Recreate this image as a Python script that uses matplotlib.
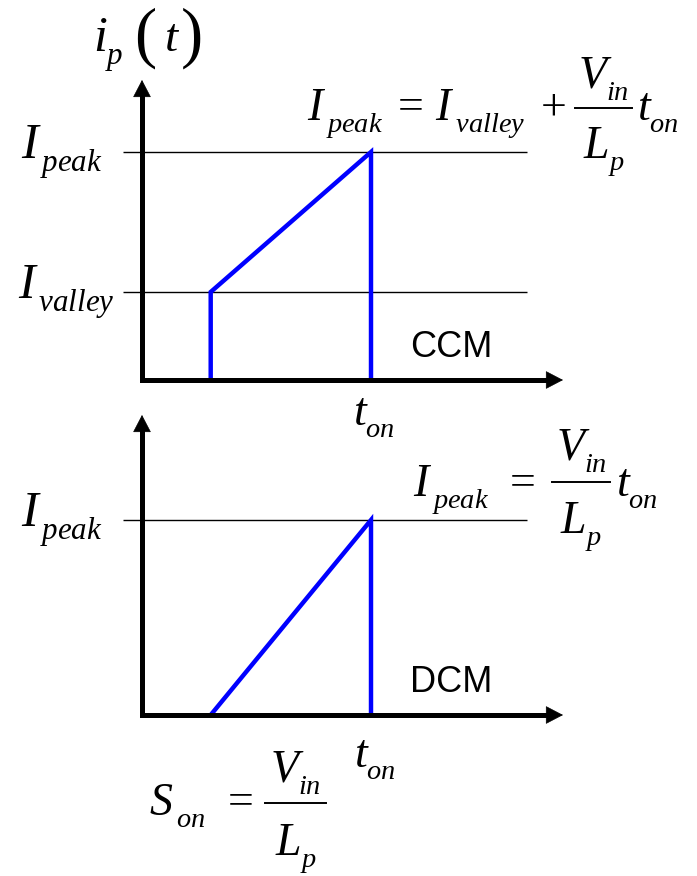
import matplotlib
matplotlib.use("Agg")
import matplotlib.pyplot as plt
from matplotlib.lines import Line2D
from matplotlib import _mathtext

plt.rcParams['mathtext.fontset'] = 'custom'
plt.rcParams['mathtext.rm'] = 'Liberation Serif'
plt.rcParams['mathtext.it'] = 'Liberation Serif:italic'
plt.rcParams['mathtext.bf'] = 'Liberation Serif:bold'
# equation-editor look: smaller, lower subscripts
_mathtext.SHRINK_FACTOR = 0.62
_mathtext.FontConstantsBase.sub1 = 0.6

# switch current waveforms (normalised: t_on = 1, I_peak = 1)
t_ccm = [0.30, 0.30, 1.0, 1.0]
i_ccm = [0.0, 0.386, 1.0, 0.0]
t_dcm = [0.30, 1.0, 1.0]
i_dcm = [0.0, 1.0, 0.0]
I_peak = 1.0
I_valley = 0.386

W, H = 697, 876
fig = plt.figure(figsize=(W / 100, H / 100), dpi=100)

def px_axes(left, top, right, bottom):
    return fig.add_axes([left / W, 1 - bottom / H, (right - left) / W, (bottom - top) / H])

def fig_text(x, y, s, **kw):
    kw.setdefault('va', 'baseline')
    fig.text(x / W, 1 - y / H, s, **kw)

def fraction(x0, x1, y, num, den, num_y, den_y, size):
    # numerator / rule / denominator stacked by hand (taller than \dfrac)
    xc = (x0 + x1) / 2
    fig_text(xc, num_y, num, fontsize=size, ha='center')
    fig_text(xc, den_y, den, fontsize=size, ha='center')
    fig.add_artist(Line2D([x0 / W, x1 / W], [1 - y / H] * 2, color='black', lw=1.4,
                          transform=fig.transFigure))

def draw_frame(ax, xmax, ymax):
    ax.set_xlim(0, xmax)
    ax.set_ylim(0, ymax)
    ax.axis('off')
    ax.plot([0, 0, xmax * 0.97], [ymax * 0.96, 0, 0], color='black', lw=3.6,
            solid_joinstyle='miter', solid_capstyle='projecting', clip_on=False, zorder=3)
    arrow = dict(arrowstyle='-|>,head_length=11.5,head_width=6', mutation_scale=1,
                 color='black', lw=0.5, shrinkA=0, shrinkB=0)
    ax.annotate('', xy=(xmax, 0), xytext=(xmax * 0.9, 0), arrowprops=arrow, zorder=4)
    ax.annotate('', xy=(0, ymax), xytext=(0, ymax * 0.9), arrowprops=arrow, zorder=4)

xmax = (563 - 142) / 229
g0, g1 = -19 / 229, 385 / 229

# CCM panel
ax1 = px_axes(142, 80, 563, 380)
draw_frame(ax1, xmax, 300 / 228)
ax1.hlines([I_peak, I_valley], g0, g1, color='black', lw=1.0, clip_on=False, zorder=1)
ax1.plot(t_ccm, i_ccm, color='#0000ff', lw=3.2, solid_joinstyle='miter', clip_on=False, zorder=2)

# DCM panel
ax2 = px_axes(142, 415, 563, 715)
draw_frame(ax2, xmax, 300 / 195)
ax2.hlines([I_peak], g0, g1, color='black', lw=1.0, clip_on=False, zorder=1)
ax2.plot(t_dcm, i_dcm, color='#0000ff', lw=3.2, solid_joinstyle='miter', clip_on=False, zorder=2)

fs = 36
eq = 33
serif = 'Liberation Serif'
sans = 'Liberation Sans'

# y-axis name i_p(t) with tall parentheses
fig_text(93, 51, r'$i_{p}$', fontsize=fs, ha='left')
fig_text(145, 38, '(', fontsize=48, family=serif, ha='center', va='center')
fig_text(172, 51, r'$t$', fontsize=34, ha='center')
fig_text(192, 38, ')', fontsize=48, family=serif, ha='center', va='center')

# CCM labels
fig_text(103, 158, r'$I_{\,peak}$', fontsize=fs, ha='right')
fig_text(115, 298, r'$I_{\,valley}$', fontsize=fs, ha='right')
fig_text(307, 120, r'$I_{\:peak}\;=\,I_{\:valley}\;+$', fontsize=eq, ha='left')
fraction(575, 632, 108, r'$V_{in}$', r'$L_{p}$', 88, 158, eq)
fig_text(637, 120, r'$t_{on}$', fontsize=eq, ha='left')
fig_text(410, 357, 'CCM', fontsize=26, family=sans, ha='left')
fig_text(353, 425, r'$t_{on}$', fontsize=eq, ha='left')

# DCM labels
fig_text(103, 526, r'$I_{\,peak}$', fontsize=fs, ha='right')
fig_text(413, 496, r'$I_{\:peak}\;\,=$', fontsize=eq, ha='left')
fraction(552, 610, 482, r'$V_{in}$', r'$L_{p}$', 460, 533, eq)
fig_text(616, 496, r'$t_{on}$', fontsize=eq, ha='left')
fig_text(410, 692, 'DCM', fontsize=26, family=sans, ha='left')
fig_text(354, 767, r'$t_{on}$', fontsize=eq, ha='left')

fig_text(149, 815, r'$S_{\:on}\;\,=$', fontsize=eq, ha='left')
fraction(265, 326, 803, r'$V_{in}$', r'$L_{p}$', 782, 855, eq)

fig.savefig('out.png', dpi=100)
